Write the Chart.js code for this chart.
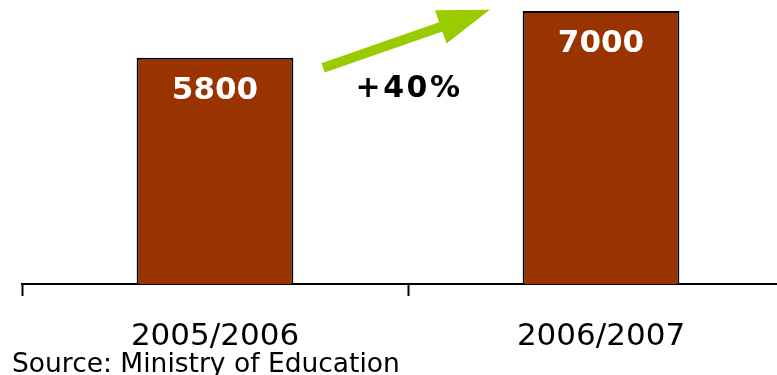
<!DOCTYPE html>
<html>
<head>
<meta charset="utf-8">
<script src="https://cdn.jsdelivr.net/npm/chart.js@4"></script>
<style>
html,body{margin:0;padding:0;background:#fff;overflow:hidden;width:777px;height:375px;}
#wrap{width:800px;height:375px;}
</style>
</head>
<body>
<div id="wrap"><canvas id="c" width="800" height="375"></canvas></div>
<script>
const categories = ['2005/2006', '2006/2007'];
const students = [5800, 7000];
const growthLabel = '+40%';
const growthAt = [0.5, 5000];            // [category index, value]
const arrowFrom = [0.28, 5540];          // [category index, value]
const arrowTo = [0.712, 7030];           // [category index, value]
const sourceNote = 'Source: Ministry of Education';

const FONT = "'DejaVu Sans', Verdana, sans-serif";

const overlay = {
  id: 'overlay',
  afterDatasetsDraw(chart) {
    const ctx = chart.ctx;
    const xs = chart.scales.x, ys = chart.scales.y;
    const meta = chart.getDatasetMeta(0);
    ctx.save();
    ctx.fillStyle = '#ffffff';
    ctx.font = 'bold 31px ' + FONT;
    ctx.textAlign = 'center';
    ctx.textBaseline = 'middle';
    meta.data.forEach((bar, i) => {
      ctx.fillText(String(students[i]), bar.x, bar.y + 33);
    });
    const x1 = xs.getPixelForValue(arrowFrom[0]), y1 = ys.getPixelForValue(arrowFrom[1]);
    const x2 = xs.getPixelForValue(arrowTo[0]), y2 = ys.getPixelForValue(arrowTo[1]);
    const dx = x2 - x1, dy = y2 - y1, len = Math.hypot(dx, dy);
    const ux = dx / len, uy = dy / len, nx = -uy, ny = ux;
    const shaftHalf = 5, headLen = 52, headHalf = 17.5;
    const bx = x2 - ux * headLen, by = y2 - uy * headLen;
    ctx.fillStyle = '#99cc00';
    ctx.beginPath();
    ctx.moveTo(x1 + nx * shaftHalf, y1 + ny * shaftHalf);
    ctx.lineTo(bx + nx * shaftHalf, by + ny * shaftHalf);
    ctx.lineTo(bx + nx * headHalf, by + ny * headHalf);
    ctx.lineTo(x2, y2);
    ctx.lineTo(bx - nx * headHalf, by - ny * headHalf);
    ctx.lineTo(bx - nx * shaftHalf, by - ny * shaftHalf);
    ctx.lineTo(x1 - nx * shaftHalf, y1 - ny * shaftHalf);
    ctx.closePath();
    ctx.fill();
    ctx.fillStyle = '#000000';
    ctx.font = 'bold 30px ' + FONT;
    if ('letterSpacing' in ctx) ctx.letterSpacing = '2.5px';
    ctx.textAlign = 'center';
    ctx.fillText(growthLabel, xs.getPixelForValue(growthAt[0]) + 1, ys.getPixelForValue(growthAt[1]));
    if ('letterSpacing' in ctx) ctx.letterSpacing = '0px';
    ctx.font = '26.5px ' + FONT;
    ctx.textAlign = 'left';
    ctx.textBaseline = 'alphabetic';
    ctx.fillText(sourceNote, 12, 372);
    ctx.restore();
  }
};

new Chart(document.getElementById('c'), {
  type: 'bar',
  data: {
    labels: categories,
    datasets: [{
      data: students,
      backgroundColor: '#993300',
      borderColor: '#000000',
      borderWidth: 2,
      borderSkipped: 'bottom',
      barPercentage: 0.406,
      categoryPercentage: 1.0
    }]
  },
  options: {
    responsive: false,
    animation: false,
    devicePixelRatio: 1,
    layout: { padding: { left: 22, right: 6, top: 0, bottom: 0 } },
    plugins: { legend: { display: false }, tooltip: { enabled: false }, title: { display: false } },
    scales: {
      y: { display: false, min: 0, max: 7280 },
      x: {
        afterFit(scale) { scale.height = 91; },
        border: { display: true, color: '#000000', width: 2 },
        grid: {
          offset: true,
          drawOnChartArea: false,
          drawTicks: true,
          tickLength: 12,
          tickWidth: 2,
          tickColor: '#000000'
        },
        ticks: {
          color: '#000000',
          font: { family: FONT, size: 31 },
          padding: 22
        }
      }
    }
  },
  plugins: [overlay]
});
</script>
</body>
</html>
